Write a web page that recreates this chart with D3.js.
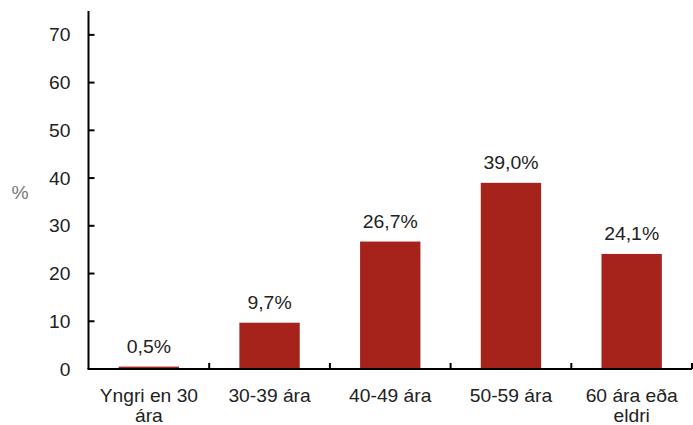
<!DOCTYPE html>
<html><head><meta charset="utf-8">
<script src="https://cdn.jsdelivr.net/npm/d3@7"></script>
<style>body{margin:0;background:#fff}svg{display:block}text{font-family:Arial,"Liberation Sans",sans-serif;fill:#222}</style>
</head><body><svg id="c" width="693" height="425"></svg>
<script>
const categories = [["Yngri en 30","ára"],["30-39 ára"],["40-49 ára"],["50-59 ára"],["60 ára eða","eldri"]];
const values = [0.5, 9.7, 26.7, 39.0, 24.1];
const valueLabels = ["0,5%","9,7%","26,7%","39,0%","24,1%"];
const yTicks = [0,10,20,30,40,50,60,70];
const yLabel = "%";

const svg = d3.select("#c");
const x0=88.5, x1=692, yb=369, yt=11;
const keys = categories.map((c,i)=>i);
const x = d3.scaleBand().domain(keys).range([x0,x1]).paddingInner(0.5).paddingOuter(0.25);
const y = d3.scaleLinear().domain([0,75]).range([yb,yt]);
const step = x.step();

function txt(g, tx, ty, s, size, sx, anchor, fill){
  return g.append("text").attr("transform",`translate(${tx},${ty}) scale(${sx},1)`)
    .attr("text-anchor",anchor).style("font-size",size+"px").style("fill",fill||"#222").text(s);
}

// bars
svg.selectAll("rect.bar").data(values).join("rect").attr("class","bar")
  .attr("x",(d,i)=>x(i)).attr("width",x.bandwidth())
  .attr("y",d=>y(d)).attr("height",d=>yb-y(d)).attr("fill","#A5231A");

// value labels
values.forEach((v,i)=>txt(svg, x(i)+x.bandwidth()/2, y(v)-14, valueLabels[i], 17.5, 1.11, "middle"));

// y axis
svg.append("line").attr("x1",x0).attr("x2",x0).attr("y1",yt).attr("y2",yb).attr("stroke","#000").attr("stroke-width",2);
yTicks.forEach(t=>{
  svg.append("line").attr("x1",x0).attr("x2",x0+6).attr("y1",y(t)).attr("y2",y(t)).attr("stroke","#000").attr("stroke-width",2);
  txt(svg, 70.5, y(t)+6.5, String(t), 17.5, 1.1, "end");
});
txt(svg, 20, 199, yLabel, 17.5, 1.1, "middle", "#777");

// x axis
svg.append("line").attr("x1",x0-1).attr("x2",x1).attr("y1",yb).attr("y2",yb).attr("stroke","#000").attr("stroke-width",2);
keys.forEach(i=>{
  const bx = x0 + step*(i+1);
  svg.append("line").attr("x1",bx).attr("x2",bx).attr("y1",yb).attr("y2",yb-6).attr("stroke","#000").attr("stroke-width",2);
  categories[i].forEach((ln,j)=>txt(svg, x(i)+x.bandwidth()/2, 401.5+j*20.5, ln, 17.5, 1.1, "middle"));
});
</script></body></html>
